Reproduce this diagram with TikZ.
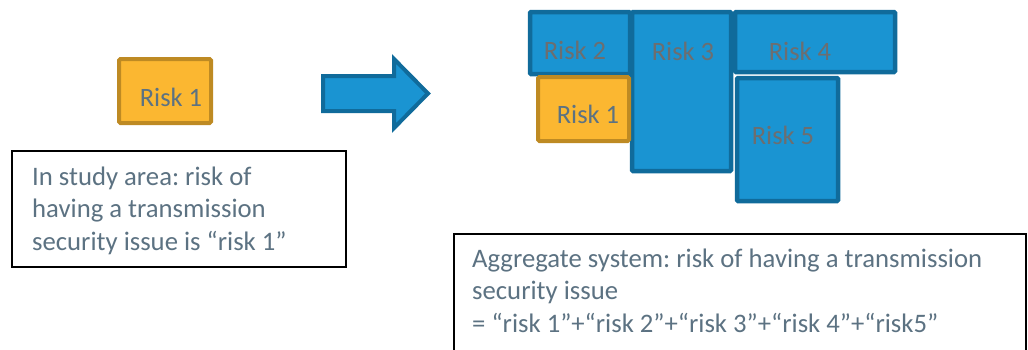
\documentclass[tikz,border=0pt]{standalone}
\usepackage{fontspec}
\setmainfont{Carlito}
\frenchspacing
\definecolor{bluefill}{HTML}{1A94D2}
\definecolor{blueedge}{HTML}{106B9B}
\definecolor{orfill}{HTML}{FBB731}
\definecolor{oredge}{HTML}{BE8A23}
\definecolor{slate}{HTML}{5C7282}
\definecolor{greytxt}{HTML}{6C6E70}
\tikzset{
  bluebox/.style={draw=blueedge, fill=bluefill, line width=4.5pt, rounded corners=1pt},
  orbox/.style={draw=oredge, fill=orfill, line width=4pt, rounded corners=1.5pt},
  risklab/.style={font=\fontsize{26.5}{30}\selectfont, inner sep=0pt},
  para/.style={font=\fontsize{26.7}{32.5}\selectfont, text=slate, align=left, inner sep=0pt, anchor=base west},
  textbox/.style={draw=black, line width=1.6pt, fill=white}
}
\begin{document}
\begin{tikzpicture}[x=1pt,y=-1pt]
\useasboundingbox (0,0) rectangle (1028,349);
\begin{scope}
\clip (0,0) rectangle (1028,349);
% left side
\node[orbox, minimum width=92pt, minimum height=64pt] (l1) at (165,91) {};
\node[risklab, text=slate] (l1t) at (171,97) {Risk 1};
\node[textbox, minimum width=334pt, minimum height=116pt] (lbox) at (179,209) {};
\node[para] (ltext) at (32,250) {In study area: risk of\\having a transmission\\security issue is “risk 1”};
% arrow
\draw[draw=blueedge, fill=bluefill, line width=4pt, line join=miter]
  (323,76) -- (394,76) -- (394,59) -- (428,93.5) -- (394,128) -- (394,111) -- (323,111) -- cycle;
% right blocks
\node[bluebox, minimum width=100pt, minimum height=62pt] (r2) at (580,43) {};
\node[risklab, text=greytxt] (r2t) at (575,50) {Risk 2};
\node[bluebox, minimum width=99pt, minimum height=159pt] (r3) at (681.5,91.5) {};
\node[risklab, text=greytxt] (r3t) at (683,51) {Risk 3};
\node[bluebox, minimum width=160pt, minimum height=60pt] (r4) at (815,42) {};
\node[risklab, text=greytxt] (r4t) at (800,51) {Risk 4};
\node[bluebox, minimum width=101pt, minimum height=123pt] (r5) at (787.5,139.5) {};
\node[risklab, text=greytxt] (r5t) at (783,135) {Risk 5};
\node[orbox, minimum width=91pt, minimum height=64pt] (r1) at (583.5,109) {};
\node[risklab, text=slate] (r1t) at (588,114) {Risk 1};
% right text box
\node[textbox, minimum width=572pt, minimum height=130pt] (rbox) at (740,299) {};
\node[para] (rtext) at (472,332) {Aggregate system: risk of having a transmission\\security issue\\= “risk 1”+“risk 2”+“risk 3”+“risk 4”+“risk5”};
\end{scope}
\end{tikzpicture}
\end{document}
